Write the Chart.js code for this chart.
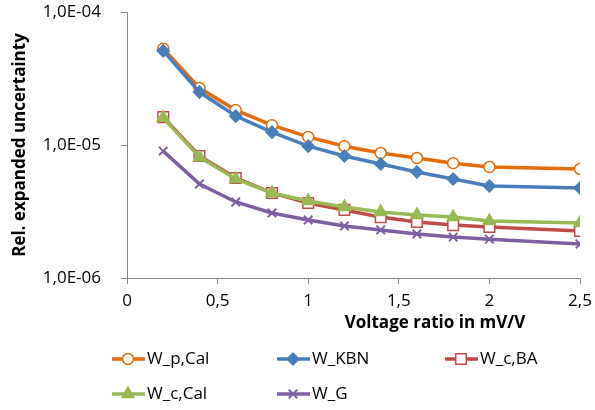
<!DOCTYPE html>
<html>
<head>
<meta charset="utf-8">
<script src="https://cdn.jsdelivr.net/npm/chart.js@4/dist/chart.umd.min.js"></script>
<style>
  body { margin: 0; background: #fff; }
  #chart { display: block; }
</style>
</head>
<body>
<canvas id="chart" width="595" height="410"></canvas>
<script>
// Voltage ratio in mV/V (x values shared by every series)
let voltageRatio = [0.2, 0.4, 0.6, 0.8, 1.0, 1.2, 1.4, 1.6, 1.8, 2.0, 2.5];

// Relative expanded uncertainty
let wpCal = [5.3e-5, 2.68e-5, 1.83e-5, 1.41e-5, 1.15e-5, 9.8e-6, 8.7e-6, 7.98e-6, 7.3e-6, 6.83e-6, 6.6e-6];
let wKBN = [5.1e-5, 2.5e-5, 1.65e-5, 1.25e-5, 9.8e-6, 8.27e-6, 7.2e-6, 6.27e-6, 5.55e-6, 4.92e-6, 4.75e-6];
let wcBA = [1.62e-5, 8.27e-6, 5.65e-6, 4.36e-6, 3.66e-6, 3.25e-6, 2.87e-6, 2.64e-6, 2.5e-6, 2.42e-6, 2.26e-6];
let wcCal = [1.6e-5, 8.1e-6, 5.55e-6, 4.36e-6, 3.79e-6, 3.42e-6, 3.13e-6, 2.98e-6, 2.87e-6, 2.68e-6, 2.59e-6];
let wG = [9.0e-6, 5.09e-6, 3.73e-6, 3.08e-6, 2.73e-6, 2.46e-6, 2.3e-6, 2.14e-6, 2.03e-6, 1.96e-6, 1.8e-6];

let seriesNames = ["W_p,Cal", "W_KBN", "W_c,BA", "W_c,Cal", "W_G"];
let yTickValues = [1e-6, 1e-5, 1e-4];
let xTickValues = [0, 0.5, 1, 1.5, 2, 2.5];

let fontFamily = "'Open Sans', 'Liberation Sans', sans-serif";
let axisGray = "#868686";

function toPoints(values)
{
    return voltageRatio.map((x, i) => ({ x: x, y: values[i] }));
}

// Excel-like "1,0E-05" labels
function sciLabel(value)
{
    let exp = Math.round(Math.log10(value));
    let sign = exp < 0 ? "-" : "+";
    let digits = String(Math.abs(exp)).padStart(2, "0");
    return "1,0E" + sign + digits;
}

function makeDataset(label, values, color, style)
{
    return Object.assign({
        label: label,
        data: toPoints(values),
        borderColor: color,
        backgroundColor: color,
        borderWidth: 3.5,
        pointBorderColor: color,
        pointBackgroundColor: color,
        pointBorderWidth: 1.5,
        pointHoverRadius: 6,
        tension: 0
    }, style);
}

let datasets = [
    makeDataset(seriesNames[0], wpCal, "#E46C0A", { pointStyle: "circle", pointRadius: 5.5, pointBackgroundColor: "#ffffff", order: 5 }),
    makeDataset(seriesNames[1], wKBN, "#4A7EBB", { pointStyle: "rectRot", pointRadius: 6, order: 4 }),
    makeDataset(seriesNames[2], wcBA, "#BE4B48", { pointStyle: "rect", pointRadius: 7.5, pointBackgroundColor: "#ffffff", order: 3 }),
    makeDataset(seriesNames[3], wcCal, "#98B954", { pointStyle: "triangle", pointRadius: 7, order: 2 }),
    makeDataset(seriesNames[4], wG, "#7D60A0", { pointStyle: "crossRot", pointRadius: 6, pointBorderWidth: 2, order: 1 })
];

// Axis titles drawn at Excel's positions (x title sits to the right, under the ticks)
let axisTitlesPlugin = {
    id: "axisTitles",
    afterDraw(chart)
    {
        let ctx = chart.ctx;
        let area = chart.chartArea;
        ctx.save();
        ctx.fillStyle = "#000";
        ctx.font = "bold 17px " + fontFamily;
        ctx.textAlign = "center";
        ctx.textBaseline = "middle";
        ctx.fillText("Voltage ratio in mV/V", area.left + 308, area.bottom + 45);

        ctx.translate(20, (area.top + area.bottom) / 2);
        ctx.rotate(-Math.PI / 2);
        ctx.fillText("Rel. expanded uncertainty", 0, 0);
        ctx.restore();
    }
};

// Legend laid out in a 3 column grid, each key is a short line with its marker
let gridLegendPlugin = {
    id: "gridLegend",
    afterDraw(chart)
    {
        let ctx = chart.ctx;
        let colX = [112, 277, 445];
        let rowY = [359, 394];
        ctx.save();
        ctx.font = "17px " + fontFamily;
        ctx.textBaseline = "middle";
        ctx.textAlign = "left";
        chart.data.datasets.forEach((ds, i) =>
        {
            let x = colX[i % 3];
            let y = rowY[Math.floor(i / 3)];
            ctx.strokeStyle = ds.borderColor;
            ctx.lineWidth = 3.5;
            ctx.beginPath();
            ctx.moveTo(x, y);
            ctx.lineTo(x + 33, y);
            ctx.stroke();

            ctx.strokeStyle = ds.pointBorderColor;
            ctx.fillStyle = ds.pointBackgroundColor;
            ctx.lineWidth = ds.pointBorderWidth;
            Chart.helpers.drawPoint(ctx, {
                pointStyle: ds.pointStyle,
                radius: ds.pointRadius,
                rotation: 0,
                borderWidth: ds.pointBorderWidth
            }, x + 16, y);

            ctx.fillStyle = "#000";
            ctx.fillText(ds.label, x + 35, y);
        });
        ctx.restore();
    }
};

new Chart(document.getElementById("chart"),
{
    type: "line",
    data: { datasets: datasets },
    plugins: [axisTitlesPlugin, gridLegendPlugin],
    options:
    {
        responsive: false,
        animation: false,
        layout: { autoPadding: false, padding: { top: 12, right: 15, left: 0, bottom: 0 } },
        plugins:
        {
            legend: { display: false },
            title: { display: false },
            tooltip: { enabled: true }
        },
        scales:
        {
            x:
            {
                type: "linear",
                min: 0,
                max: 2.5,
                afterBuildTicks: (scale) => { scale.ticks = xTickValues.map(v => ({ value: v })); },
                afterFit: (scale) =>
                {
                    scale.height = 132;
                    scale.paddingLeft = 0;
                    scale.paddingRight = 0;
                },
                grid: { drawOnChartArea: false, color: axisGray, tickLength: 6 },
                border: { display: true, color: axisGray, width: 1 },
                ticks:
                {
                    color: "#000",
                    font: { family: fontFamily, size: 17 },
                    padding: 7,
                    maxRotation: 0,
                    callback: (v) => String(v).replace(".", ",")
                }
            },
            y:
            {
                type: "logarithmic",
                min: 1e-6,
                max: 1e-4,
                afterBuildTicks: (scale) => { scale.ticks = yTickValues.map(v => ({ value: v })); },
                afterFit: (scale) =>
                {
                    scale.width = 127;
                    scale.paddingTop = 0;
                    scale.paddingBottom = 0;
                },
                grid: { drawOnChartArea: false, color: axisGray, tickLength: 6 },
                border: { display: true, color: axisGray, width: 1 },
                ticks:
                {
                    color: "#000",
                    font: { family: fontFamily, size: 17 },
                    padding: 20,
                    callback: (v) => sciLabel(v)
                }
            }
        }
    }
});
</script>
</body>
</html>
